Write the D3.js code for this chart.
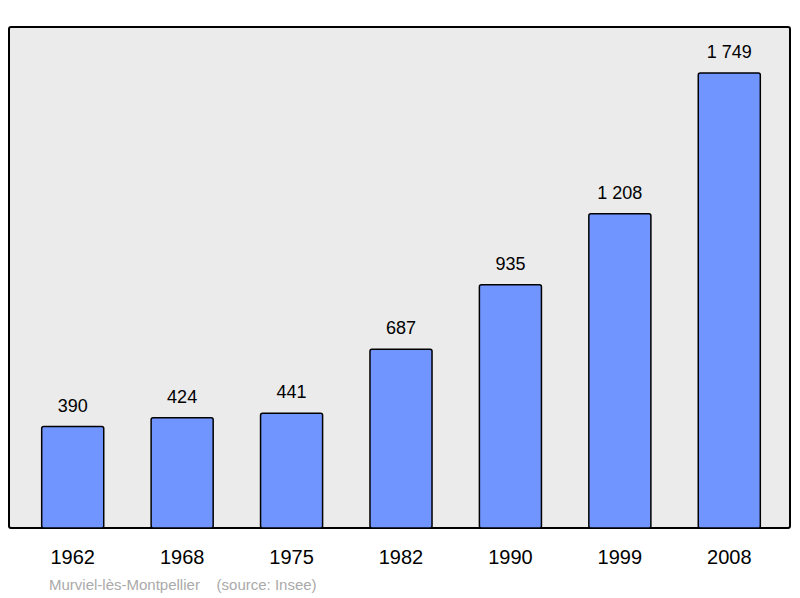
<!DOCTYPE html>
<html><head><meta charset="utf-8">
<script src="https://cdn.jsdelivr.net/npm/d3@7"></script>
<style>body{margin:0;background:#fff}</style></head>
<body><svg id="c" width="800" height="598"></svg>
<script>
const years = ["1962","1968","1975","1982","1990","1999","2008"];
const population = [390,424,441,687,935,1208,1749];
const valueLabels = ["390","424","441","687","935","1 208","1 749"];
const svg = d3.select("#c");
const font = "Liberation Sans, Arial, sans-serif";
svg.append("rect").attr("x",9).attr("y",27).attr("width",781).attr("height",501)
  .attr("rx",2).attr("fill","#ebebeb").attr("stroke","#000").attr("stroke-width",2);
const x = d3.scaleBand().domain(years).range([18,784]).paddingInner(0.433).paddingOuter(0.2165);
const y = d3.scaleLinear().domain([0,1749]).range([528,73]);
svg.selectAll(".bar").data(population).enter().append("rect")
  .attr("x",(d,i)=>x(years[i])).attr("y",d=>y(d))
  .attr("width",x.bandwidth()).attr("height",d=>y(0)-y(d))
  .attr("rx",2).attr("fill","#7095ff").attr("stroke","#000").attr("stroke-width",1.5);
svg.selectAll(".val").data(population).enter().append("text")
  .attr("x",(d,i)=>x(years[i])+x.bandwidth()/2).attr("y",d=>y(d)-15)
  .attr("text-anchor","middle").attr("font-family",font).attr("font-size",18)
  .text((d,i)=>valueLabels[i]);
svg.selectAll(".yr").data(years).enter().append("text")
  .attr("x",d=>x(d)+x.bandwidth()/2).attr("y",564)
  .attr("text-anchor","middle").attr("font-family",font).attr("font-size",20)
  .text(d=>d);
svg.append("text").attr("x",49).attr("y",590).attr("font-family",font).attr("font-size",15)
  .attr("fill","#aaa").attr("xml:space","preserve").style("white-space","pre")
  .text("Murviel-lès-Montpellier    (source: Insee)");
</script></body></html>
